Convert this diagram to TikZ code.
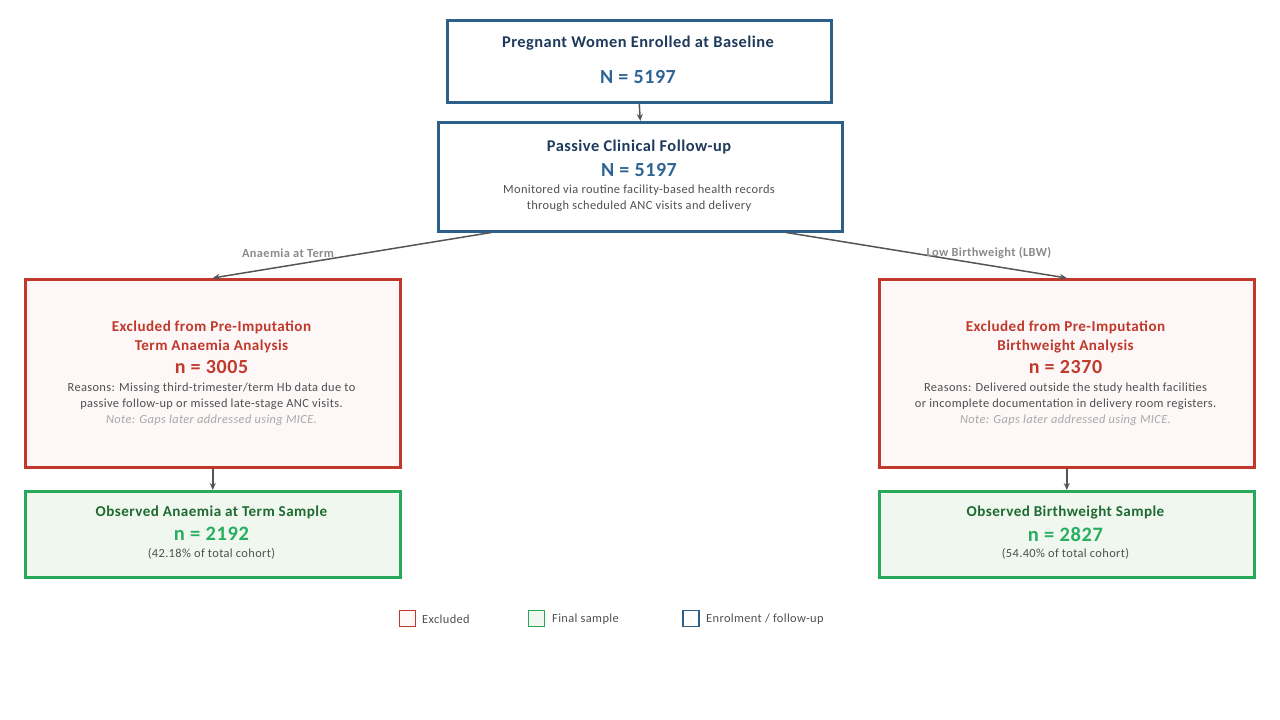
\documentclass[tikz,border=0pt]{standalone}
\usepackage{fontspec}
\setmainfont{Carlito}[LetterSpace=3]
\usetikzlibrary{arrows.meta,calc}
\definecolor{bluebd}{HTML}{2D5F8B}
\definecolor{navy}{HTML}{1F3A5C}
\definecolor{nblue}{HTML}{2E6494}
\definecolor{redbd}{HTML}{C0392B}
\definecolor{redfill}{HTML}{FDF7F7}
\definecolor{greenbd}{HTML}{27A85A}
\definecolor{greenfill}{HTML}{EFF7EF}
\definecolor{gtitle}{HTML}{1E6A30}
\definecolor{gnum}{HTML}{27AE60}
\definecolor{txt}{HTML}{505050}
\definecolor{notec}{HTML}{A8A8A8}
\definecolor{arr}{HTML}{555555}
\definecolor{lbl}{HTML}{8A8A8A}
\tikzset{
  box/.style={draw, line width=2.5pt, inner sep=0pt, anchor=north west},
  bluebox/.style={box, draw=bluebd, fill=white},
  redbox/.style={box, draw=redbd, fill=redfill},
  greenbox/.style={box, draw=greenbd, fill=greenfill},
  ttl/.style={font=\fontsize{16.4}{18}\selectfont\bfseries, text=navy, inner sep=0pt},
  bign/.style={font=\fontsize{20}{22}\selectfont\bfseries, text=nblue, inner sep=0pt},
  rttl/.style={font=\fontsize{15.1}{17}\selectfont\bfseries, text=redbd, inner sep=0pt},
  rn/.style={font=\fontsize{20}{22}\selectfont\bfseries, text=redbd, inner sep=0pt},
  gttl/.style={font=\fontsize{15.1}{17}\selectfont\bfseries, text=gtitle, inner sep=0pt},
  gn/.style={font=\fontsize{20.5}{22}\selectfont\bfseries, text=gnum, inner sep=0pt},
  small/.style={font=\fontsize{12.4}{14}\selectfont, text=txt, inner sep=0pt},
  note/.style={font=\fontsize{12.4}{14}\selectfont\itshape, text=notec, inner sep=0pt},
  lab/.style={font=\fontsize{12.4}{14}\selectfont\bfseries, text=lbl, inner sep=0pt},
  arrow/.style={draw=arr, line width=1.5pt, -{Stealth[length=7pt,width=6pt]}},
  legbox/.style={draw, line width=1.2pt, minimum width=16pt, minimum height=16pt, inner sep=0pt},
  legtxt/.style={font=\fontsize{12.4}{14}\selectfont, text=txt, inner sep=0pt, anchor=west},
}
\begin{document}
\begin{tikzpicture}[x=1pt,y=-1pt]
\useasboundingbox (0,0) rectangle (1280,720);
% boxes
\node[bluebox, minimum width=384pt, minimum height=82pt] (base) at (446,19) {};
\node[bluebox, minimum width=404pt, minimum height=109pt] (follow) at (437,121) {};
\node[redbox, minimum width=375pt, minimum height=188pt] (exL) at (24,278) {};
\node[redbox, minimum width=375pt, minimum height=188pt] (exR) at (878,278) {};
\node[greenbox, minimum width=375pt, minimum height=86pt] (obL) at (24,490) {};
\node[greenbox, minimum width=375pt, minimum height=86pt] (obR) at (878,490) {};
% texts top
\node[ttl] (t1) at (638,43) {Pregnant Women Enrolled at Baseline};
\node[bign] (t2) at (638,77) {N = 5197};
\node[ttl] (t3) at (639,147) {Passive Clinical Follow-up};
\node[bign] (t4) at (639,170) {N = 5197};
\node[small] (t5) at (639,190) {Monitored via routine facility-based health records};
\node[small] (t6) at (639,206) {through scheduled ANC visits and delivery};
% left excluded
\node[rttl] (l1) at (211.5,327) {Excluded from Pre-Imputation};
\node[rttl] (l2) at (211.5,346) {Term Anaemia Analysis};
\node[rn] (l3) at (211.5,367) {n = 3005};
\node[small] (l4) at (211.5,388) {Reasons: Missing third-trimester/term Hb data due to};
\node[small] (l5) at (211.5,404) {passive follow-up or missed late-stage ANC visits.};
\node[note] (l6) at (211.5,420) {Note: Gaps later addressed using MICE.};
% right excluded
\node[rttl] (r1) at (1065.5,327) {Excluded from Pre-Imputation};
\node[rttl] (r2) at (1065.5,346) {Birthweight Analysis};
\node[rn] (r3) at (1065.5,367) {n = 2370};
\node[small] (r4) at (1065.5,388) {Reasons: Delivered outside the study health facilities};
\node[small] (r5) at (1065.5,404) {or incomplete documentation in delivery room registers.};
\node[note] (r6) at (1065.5,420) {Note: Gaps later addressed using MICE.};
% green
\node[gttl] (g1) at (211.5,512) {Observed Anaemia at Term Sample};
\node[gn] (g2) at (211.5,534) {n = 2192};
\node[small] (g3) at (211.5,554) {(42.18\% of total cohort)};
\node[gttl] (h1) at (1065.5,512) {Observed Birthweight Sample};
\node[gn] (h2) at (1065.5,534) {n = 2827};
\node[small] (h3) at (1065.5,554) {(54.40\% of total cohort)};
% connectors
\draw[arrow] (base.south) -- (follow.north);
\draw[arrow] ([xshift=-149pt]follow.south) -- (exL.north);
\draw[arrow] ([xshift=146pt]follow.south) -- (exR.north);
\draw[arrow] (exL.south) -- (obL.north);
\draw[arrow] (exR.south) -- (obR.north);
\node[lab] (la) at (288,253) {Anaemia at Term};
\node[lab] (lb) at (989,253) {Low Birthweight (LBW)};
% legend
\node[legbox, draw=redbd, fill=redfill] (k1) at (407.5,618.5) {};
\node[legtxt] (k1t) at (422,619) {Excluded};
\node[legbox, draw=greenbd, fill=greenfill] (k2) at (536.5,618.5) {};
\node[legtxt] (k2t) at (552,619) {Final sample};
\node[legbox, draw=bluebd, fill=white] (k3) at (691,618.5) {};
\node[legtxt] (k3t) at (706,619) {Enrolment / follow-up};
\end{tikzpicture}
\end{document}
